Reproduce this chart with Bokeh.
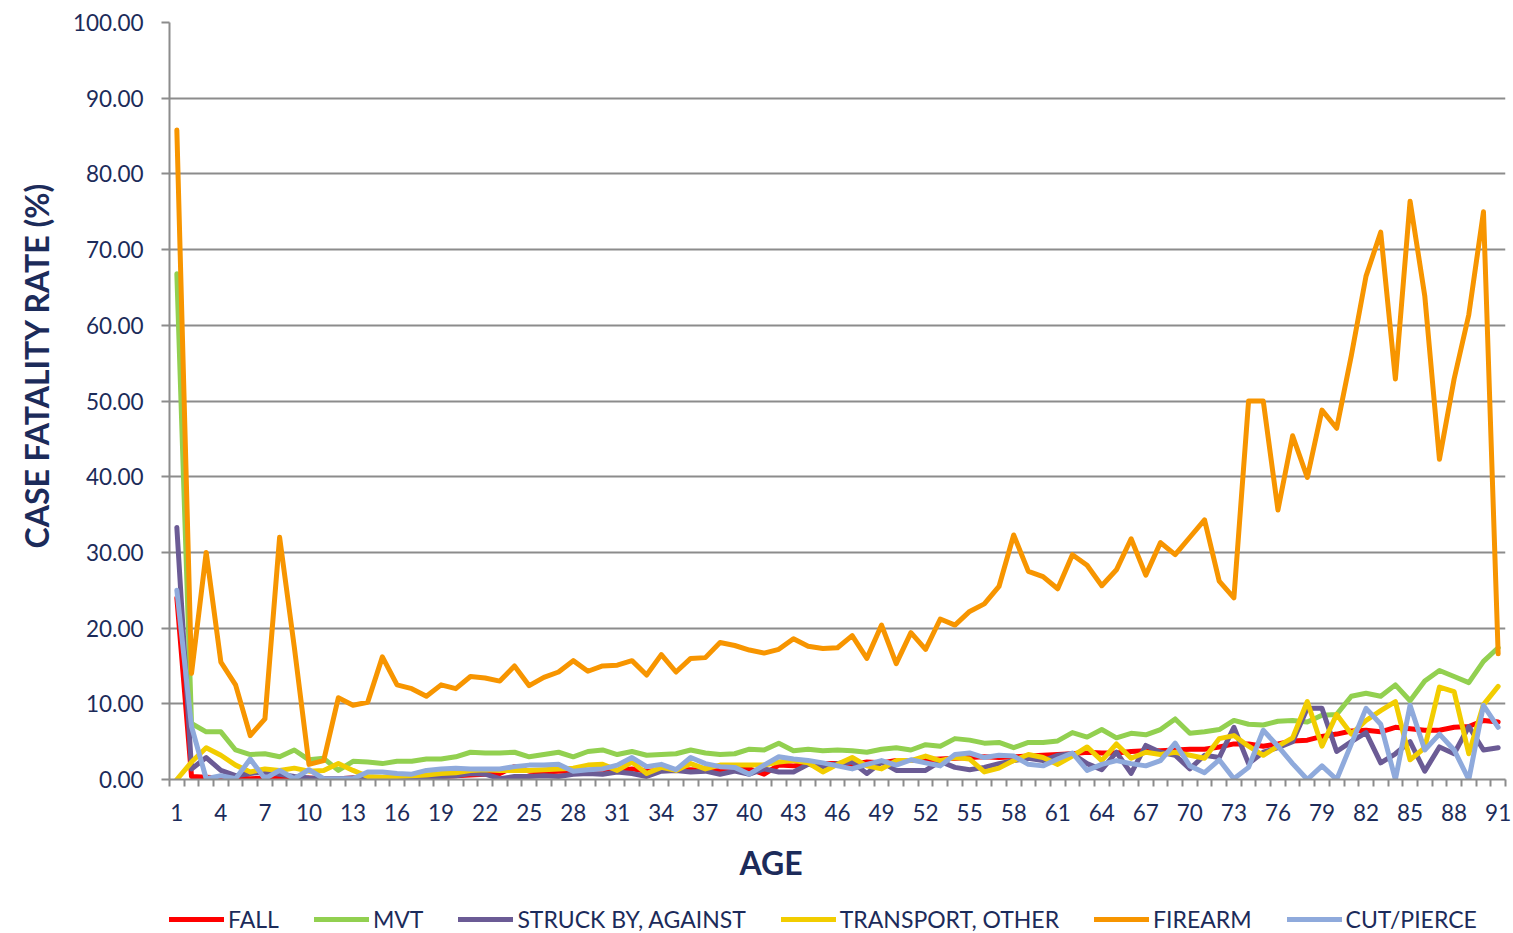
from bokeh.plotting import figure
from bokeh.models import FixedTicker, NumeralTickFormatter, Legend, LegendItem, Range1d, ColumnDataSource, Title
from bokeh.layouts import column
from bokeh.embed import file_html
from bokeh.resources import INLINE

ages = list(range(1, 92))
tick_labels = list(range(1, 92, 3))

fall = [24.0, 0.4, 0.3, 0.2, 0.2, 0.1, 0.2, 0.2, 0.1, 0.2,
        0.1, 0.1, 0.2, 0.2, 0.2, 0.3, 0.3, 0.3, 0.4, 0.5,
        0.6, 0.7, 0.8, 1.7, 1.1, 1.0, 1.1, 1.1, 1.2, 1.3,
        1.2, 1.4, 1.1, 1.2, 1.3, 1.3, 1.2, 1.3, 1.3, 1.4,
        0.7, 1.9, 1.8, 2.0, 2.1, 2.1, 2.0, 2.3, 2.2, 2.5,
        2.5, 2.6, 2.7, 2.8, 2.9, 3.0, 2.9, 3.0, 3.1, 3.2,
        3.3, 3.4, 3.6, 3.5, 3.5, 3.7, 3.8, 3.8, 3.9, 4.0,
        4.0, 4.3, 4.7, 4.7, 4.4, 4.7, 5.1, 5.2, 5.7, 6.0,
        6.4, 6.5, 6.3, 6.9, 6.7, 6.5, 6.5, 6.9, 7.0, 7.8, 7.6]

mvt = [66.8, 7.4, 6.3, 6.3, 3.9, 3.3, 3.4, 3.0, 3.9, 2.6,
       2.8, 1.2, 2.4, 2.3, 2.1, 2.4, 2.4, 2.7, 2.7, 3.0,
       3.6, 3.5, 3.5, 3.6, 3.0, 3.3, 3.6, 3.0, 3.7, 3.9,
       3.3, 3.7, 3.2, 3.3, 3.4, 3.9, 3.5, 3.3, 3.4, 4.0,
       3.9, 4.8, 3.8, 4.0, 3.8, 3.9, 3.8, 3.6, 4.0, 4.2,
       3.9, 4.6, 4.4, 5.4, 5.2, 4.8, 4.9, 4.2, 4.9, 4.9,
       5.1, 6.2, 5.6, 6.6, 5.5, 6.1, 5.9, 6.6, 8.0, 6.1,
       6.3, 6.6, 7.8, 7.3, 7.2, 7.7, 7.8, 7.6, 8.5, 8.6,
       11.0, 11.4, 11.0, 12.5, 10.4, 13.0, 14.4, 13.6, 12.8, 15.6, 17.4]

struck = [33.3, 1.4, 2.9, 1.2, 0.5, 0.8, 1.0, 0.7, 0.4, 0.2,
          0.1, 0.1, 0.2, 0.2, 0.1, 0.2, 0.2, 0.3, 0.4, 0.5,
          0.8, 0.7, 0.1, 0.4, 0.4, 0.5, 0.4, 0.7, 0.8, 0.7,
          1.0, 0.8, 0.4, 1.1, 1.2, 1.0, 1.1, 0.7, 1.1, 0.7,
          1.4, 1.0, 1.0, 2.0, 1.7, 2.1, 2.3, 0.8, 2.3, 1.2,
          1.2, 1.2, 2.4, 1.6, 1.3, 1.6, 2.1, 2.5, 2.8, 2.5,
          3.2, 3.4, 2.1, 1.3, 3.6, 0.8, 4.5, 3.6, 3.2, 1.4,
          3.2, 2.9, 6.9, 2.1, 3.6, 4.2, 5.0, 9.4, 9.4, 3.7,
          5.0, 6.2, 2.2, 3.4, 5.0, 1.1, 4.3, 3.4, 7.0, 3.9, 4.2]

transport = [0.0, 2.3, 4.2, 3.2, 1.9, 1.0, 1.4, 1.2, 1.5, 1.1,
             1.2, 2.1, 1.2, 0.4, 0.3, 0.4, 0.5, 0.6, 0.8, 0.9,
             1.2, 1.3, 1.2, 1.2, 1.2, 1.3, 1.4, 1.5, 1.9, 2.0,
             1.2, 2.3, 0.8, 1.6, 1.2, 2.1, 1.4, 1.9, 1.9, 1.9,
             1.9, 2.3, 2.5, 2.2, 1.0, 2.0, 2.9, 1.8, 1.4, 2.5,
             2.5, 3.1, 2.5, 2.9, 2.7, 1.0, 1.5, 2.5, 3.3, 2.9,
             2.0, 3.1, 4.3, 2.5, 4.7, 2.8, 3.6, 3.3, 3.6, 3.2,
             2.8, 5.4, 5.8, 4.4, 3.2, 4.4, 5.5, 10.3, 4.4, 8.6,
             6.0, 7.8, 9.1, 10.3, 2.6, 4.2, 12.2, 11.6, 3.4, 9.9, 12.3]

firearm = [85.8, 14.0, 30.0, 15.5, 12.5, 5.8, 8.0, 32.0, 17.5, 2.0,
           2.5, 10.8, 9.8, 10.2, 16.2, 12.5, 12.0, 11.0, 12.5, 12.0,
           13.6, 13.4, 13.0, 15.0, 12.4, 13.5, 14.2, 15.7, 14.3, 15.0,
           15.1, 15.7, 13.8, 16.5, 14.2, 16.0, 16.1, 18.1, 17.7, 17.1,
           16.7, 17.2, 18.6, 17.6, 17.3, 17.4, 19.0, 16.0, 20.4, 15.3,
           19.4, 17.2, 21.2, 20.4, 22.2, 23.2, 25.5, 32.3, 27.5, 26.8,
           25.2, 29.7, 28.3, 25.6, 27.7, 31.8, 27.0, 31.3, 29.7, 32.0,
           34.3, 26.2, 24.0, 50.0, 50.0, 35.6, 45.4, 39.9, 48.8, 46.4,
           56.0, 66.5, 72.3, 52.9, 76.4, 63.9, 42.3, 52.9, 61.4, 75.0, 16.6]

cut_pierce = [25.0, 7.0, 0.1, 0.5, 0.1, 2.7, 0.1, 1.2, 0.1, 1.3,
              0.1, 0.1, 0.1, 1.0, 1.0, 0.8, 0.7, 1.2, 1.4, 1.5,
              1.4, 1.4, 1.4, 1.7, 1.9, 1.9, 2.0, 1.1, 1.3, 1.4,
              1.9, 2.9, 1.7, 2.0, 1.3, 2.9, 2.1, 1.7, 1.6, 0.7,
              1.9, 3.0, 2.7, 2.5, 2.2, 1.8, 1.4, 2.0, 2.5, 1.9,
              2.6, 2.2, 1.8, 3.3, 3.5, 2.9, 3.2, 3.1, 2.0, 1.8,
              2.7, 3.5, 1.2, 2.0, 2.5, 2.1, 1.8, 2.5, 4.8, 1.8,
              0.9, 2.6, 0.1, 1.6, 6.5, 4.4, 2.1, 0.0, 1.8, 0.0,
              4.7, 9.4, 7.3, 0.0, 9.8, 3.9, 6.0, 3.9, 0.0, 9.8, 6.9]

series_names = ["FALL", "MVT", "STRUCK BY, AGAINST", "TRANSPORT, OTHER", "FIREARM", "CUT/PIERCE"]
series_values = [fall, mvt, struck, transport, firearm, cut_pierce]
colors = ["#FF0000", "#92D050", "#6B5B95", "#F2CD00", "#F79500", "#8FAADC"]

NAVY = "#1C2B5A"
GRID = "#8C8C8C"
FONT = "Lato"

src = ColumnDataSource(dict(age=ages, **{f"s{i}": v for i, v in enumerate(series_values)}))

# ---------------- main chart ----------------
p = figure(frame_width=1336, frame_height=757,
           x_range=Range1d(0.5, 91.5), y_range=Range1d(0, 100),
           output_backend="svg", toolbar_location=None,
           min_border_left=169, min_border_top=22, min_border_right=8, min_border_bottom=126)
p.outline_line_color = None
p.background_fill_color = "white"
p.border_fill_color = "white"

for i, col in enumerate(colors):
    p.line("age", f"s{i}", source=src, line_color=col, line_width=5,
           line_join="round", line_cap="round")

xa = p.xaxis[0]
xa.ticker = FixedTicker(ticks=tick_labels, minor_ticks=[a - 0.5 for a in ages] + [91.5])
xa.major_tick_line_color = None
xa.major_tick_out = 7
xa.major_tick_in = 0
xa.minor_tick_line_color = GRID
xa.minor_tick_line_width = 2
xa.minor_tick_out = 7
xa.minor_tick_in = 0
xa.axis_line_color = GRID
xa.axis_line_width = 2
xa.major_label_text_font = FONT
xa.major_label_text_font_size = "22.5px"
xa.major_label_text_color = NAVY
xa.major_label_standoff = 17

ya = p.yaxis[0]
ya.ticker = FixedTicker(ticks=list(range(0, 101, 10)))
ya.formatter = NumeralTickFormatter(format="0.00")
ya.major_tick_line_color = GRID
ya.major_tick_line_width = 2
ya.major_tick_out = 8
ya.major_tick_in = 0
ya.minor_tick_line_color = None
ya.axis_line_color = GRID
ya.axis_line_width = 2
ya.major_label_text_font = FONT
ya.major_label_text_font_size = "22.5px"
ya.major_label_text_color = NAVY
ya.major_label_standoff = 18

p.xgrid.grid_line_color = None
p.ygrid.grid_line_color = GRID
p.ygrid.grid_line_width = 2
p.ygrid.ticker = ya.ticker

x_title = Title(text="AGE", align="left", offset=570, standoff=34,
                text_font=FONT, text_font_style="bold", text_font_size="32px", text_color=NAVY)
p.add_layout(x_title, "below")

y_title = Title(text="CASE FATALITY RATE (%)", align="left", offset=231, standoff=28,
                text_font=FONT, text_font_style="bold", text_font_size="32px", text_color=NAVY)
p.add_layout(y_title, "left")

# ---------------- legend strip ----------------
lg = figure(width=1513, height=28, x_range=Range1d(-200, -199), y_range=Range1d(-200, -199),
            x_axis_type=None, y_axis_type=None, output_backend="svg", toolbar_location=None,
            min_border_left=0, min_border_right=0, min_border_top=0, min_border_bottom=0)
lg.outline_line_color = None
lg.grid.visible = False
items = []
for i, (name, col) in enumerate(zip(series_names, colors)):
    r = lg.line("age", f"s{i}", source=src, line_color=col, line_width=5,
                line_join="round", line_cap="round")
    items.append(LegendItem(label=name, renderers=[r]))

legend = Legend(items=items, orientation="horizontal", location="left",
                glyph_width=55, glyph_height=24, label_standoff=4, spacing=35,
                label_text_font=FONT, label_text_font_size="23px", label_text_color=NAVY,
                border_line_color=None, background_fill_alpha=0, padding=0, margin=0)
lg.add_layout(legend, "center")

layout = column(p, lg, spacing=0)
open("out.html", "w").write(file_html(layout, INLINE))
